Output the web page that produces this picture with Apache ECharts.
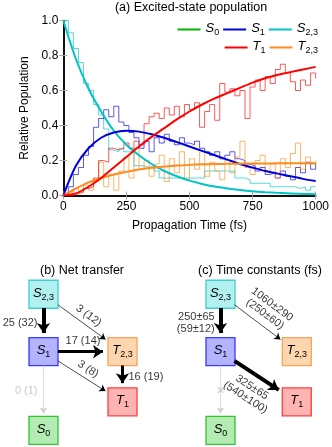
<!DOCTYPE html>
<html>
<head>
<meta charset="utf-8">
<script src="https://cdn.jsdelivr.net/npm/echarts@6/dist/echarts.min.js"></script>
<style>html,body{margin:0;padding:0;background:#fff}#main{width:332px;height:447px}</style>
</head>
<body>
<div id="main"></div>
<script>
// (a) populations: fitted curves (every 50 fs) and raw trajectory averages (every 20 fs)
var fitTime = [0,50,100,150,200,250,300,350,400,450,500,550,600,650,700,750,800,850,900,950,1000];
var s23Fit = [1.00,0.78,0.61,0.48,0.37,0.29,0.23,0.18,0.14,0.11,0.085,0.066,0.051,0.040,0.031,0.024,0.019,0.015,0.011,0.009,0.007];
var s1Fit = [0,0.17,0.27,0.33,0.36,0.37,0.365,0.35,0.33,0.305,0.28,0.255,0.23,0.205,0.18,0.16,0.14,0.125,0.11,0.095,0.083];
var t23Fit = [0,0.04,0.075,0.10,0.12,0.135,0.148,0.158,0.165,0.171,0.175,0.178,0.18,0.181,0.182,0.183,0.183,0.184,0.184,0.184,0.184];
var t1Fit = [0,0.012,0.05,0.10,0.16,0.22,0.28,0.335,0.385,0.435,0.48,0.52,0.555,0.585,0.615,0.645,0.67,0.69,0.705,0.72,0.735];

var rawTime = [0,20,40,60,80,100,120,140,160,180,200,220,240,260,280,300,320,340,360,380,400,420,440,460,480,500,
  520,540,560,580,600,620,640,660,680,700,720,740,760,780,800,820,840,860,880,900,920,940,960,980,1000];
var s23Raw = [1.00,0.93,0.84,0.76,0.64,0.60,0.52,0.46,0.38,0.26,0.25,0.27,0.25,0.25,0.17,0.17,0.16,0.17,0.14,0.10,0.10,0.10,0.10,0.10,0.10,0.10,
  0.10,0.10,0.14,0.14,0.14,0.14,0.14,0.14,0.10,0.10,0.09,0.07,0.07,0.07,0.07,0.05,0.05,0.05,0.05,0.05,0.04,0.05,0.03,0.05,0.05];
var s1Raw = [0.00,0.05,0.12,0.16,0.23,0.28,0.39,0.44,0.49,0.45,0.51,0.42,0.40,0.36,0.33,0.27,0.31,0.25,0.33,0.30,0.35,0.31,0.29,0.33,0.30,0.29,
  0.31,0.27,0.25,0.23,0.25,0.21,0.23,0.25,0.21,0.20,0.18,0.17,0.14,0.16,0.12,0.13,0.10,0.14,0.11,0.09,0.16,0.13,0.19,0.15,0.19];
var t1Raw = [0.00,0.00,0.01,0.02,0.04,0.05,0.10,0.20,0.19,0.27,0.26,0.27,0.30,0.27,0.31,0.29,0.41,0.45,0.47,0.44,0.50,0.46,0.51,0.45,0.52,0.49,
  0.53,0.39,0.48,0.52,0.43,0.64,0.59,0.61,0.57,0.60,0.44,0.62,0.66,0.60,0.68,0.64,0.72,0.75,0.70,0.65,0.60,0.66,0.63,0.70,0.67];
var t23Raw = [0.00,0.02,0.04,0.02,0.06,0.03,0.08,0.19,0.05,0.12,0.03,0.14,0.22,0.10,0.27,0.15,0.20,0.11,0.18,0.23,0.08,0.21,0.13,0.25,0.09,0.21,
  0.15,0.25,0.11,0.19,0.14,0.09,0.20,0.13,0.22,0.31,0.16,0.12,0.20,0.23,0.14,0.18,0.10,0.21,0.16,0.24,0.30,0.15,0.22,0.18,0.20];

var xTicks = [0,250,500,750,1000];
var yTicks = [0,0.2,0.4,0.6,0.8,1.0];

// (b) and (c) kinetic schemes
var transferEdges = [['S23','S1'],['S23','T23'],['S1','T23'],['S1','T1'],['T23','T1'],['S1','S0']];
var transferLabels = ['25 (32)','3 (12)','17 (14)','3 (8)','16 (19)','0 (1)'];
var timeEdges = [['S23','S1'],['S23','T23'],['S1','T1'],['S1','S0']];
var timeLabels = ['250±65\n(59±12)','1060±290\n(250±60)','325±65\n(540±100)','×'];

// layout / style
var FONT = 'Liberation Sans';
var stateColor = {S0:'#00b400', S1:'#0000dd', S23:'#00c4c4', T1:'#ff0000', T23:'#ff8c1a'};
var boxFill = {S0:'#b3ebb3', S1:'#b3b3ff', S23:'#b3f0f0', T1:'#ffb3b3', T23:'#fdd6b0'};
var boxLine = {S0:'#33c433', S1:'#3a3aff', S23:'#40d0d0', T1:'#ff4040', T23:'#f5a55a'};
var stateText = {S0:'{i|S}{s|0}', S1:'{i|S}{s|1}', S23:'{i|S}{s|2,3}', T1:'{i|T}{s|1}', T23:'{i|T}{s|2,3}'};
var nodeX = {S23:14.5, S1:14.5, T23:93.5, T1:93.5, S0:14.5};
var nodeY = {S23:14.5, S1:73, T23:73, T1:124, S0:153};
var transferWidth = [4, 0.7, 3, 0.7, 3, 0.7];
var transferSide = ['left','above','above','above','right','left'];
var timeWidth = [4, 0.7, 4, 0.7];
var timeSide = ['left','above','below','center'];

var rich = {
  i: {fontFamily: FONT, fontStyle: 'italic', fontSize: 13, color: '#000', verticalAlign: 'top'},
  s: {fontFamily: FONT, fontSize: 9, color: '#000', verticalAlign: 'bottom', padding: [6, 0, 0, 0]}
};

function pairs(ts, vs) {
  return ts.map(function (t, i) { return [t, vs[i]]; });
}

function rawSeries(key, vals) {
  return {
    name: key + ' raw', type: 'line', step: 'end', symbol: 'none', data: pairs(rawTime, vals),
    color: stateColor[key], lineStyle: {width: 1, opacity: 0.65}, z: 2, silent: true
  };
}

function fitSeries(key, vals) {
  return {
    name: key, type: 'line', smooth: 0.3, symbol: 'none', data: pairs(fitTime, vals),
    color: stateColor[key], lineStyle: {width: 2}, z: 3, silent: true
  };
}

function diagramSeries(gi, edges, labels, widths, sides) {
  var hw = 14.5, hh = 14;
  var boxes = Object.keys(nodeX).map(function (n) {
    return {
      value: [nodeX[n], nodeY[n]],
      itemStyle: {color: boxFill[n], borderColor: boxLine[n]},
      label: {formatter: stateText[n]}
    };
  });
  var lineData = [], labelData = [];
  edges.forEach(function (e, i) {
    var a = [nodeX[e[0]], nodeY[e[0]]], b = [nodeX[e[1]], nodeY[e[1]]];
    var dx = b[0] - a[0], dy = b[1] - a[1];
    var len = Math.sqrt(dx * dx + dy * dy), ux = dx / len, uy = dy / len;
    var f = Math.min(dx ? hw / Math.abs(dx) : Infinity, dy ? hh / Math.abs(dy) : Infinity);
    var p0 = [a[0] + dx * f, a[1] + dy * f];
    var p1 = [b[0] - dx * f, b[1] - dy * f];
    var head = widths[i] > 2 ? [7.5, 10] : [4.5, 6];
    var faded = e[1] === 'S0';
    var col = faded ? '#d0d0d0' : '#000';
    lineData.push({
      coords: [p0, [p1[0] - ux * head[1] / 2, p1[1] - uy * head[1] / 2]],
      lineStyle: {width: widths[i], color: col, opacity: 1},
      symbolSize: head
    });
    var mx = (p0[0] + p1[0]) / 2, my = (p0[1] + p1[1]) / 2;
    var nLines = labels[i].split('\n').length;
    var lab = {formatter: labels[i], color: faded ? '#bdbdbd' : '#000'};
    var pos;
    if (sides[i] === 'left') { pos = [mx - 6, my]; lab.align = 'right'; }
    else if (sides[i] === 'right') { pos = [mx + 6, my]; lab.align = 'left'; }
    else if (sides[i] === 'center') { pos = [mx, my]; lab.fontSize = 14; }
    else {
      var off = widths[i] / 2 + 1 + 2 * nLines + 6 * nLines;
      var sgn = sides[i] === 'above' ? 1 : -1;
      pos = [mx + sgn * uy * off, my - sgn * ux * off];
      lab.rotate = -Math.atan2(dy, dx) * 180 / Math.PI;
    }
    labelData.push({value: pos, label: lab});
  });
  return [
    {
      type: 'lines', coordinateSystem: 'cartesian2d', xAxisIndex: gi, yAxisIndex: gi,
      symbol: ['none', 'arrow'], data: lineData, z: 4, silent: true,
      lineStyle: {opacity: 1}
    },
    {
      type: 'scatter', xAxisIndex: gi, yAxisIndex: gi, symbol: 'rect', symbolSize: [29, 28],
      itemStyle: {borderWidth: 1.3, opacity: 1}, z: 3, silent: true,
      label: {show: true, position: 'inside', rich: rich},
      data: boxes
    },
    {
      type: 'scatter', xAxisIndex: gi, yAxisIndex: gi, symbolSize: 0, z: 5, silent: true,
      label: {show: true, position: 'inside', align: 'center', verticalAlign: 'middle',
        fontFamily: FONT, fontSize: 11, lineHeight: 12},
      data: labelData
    }
  ];
}

function hiddenAxis(gi, max, inverse) {
  return {gridIndex: gi, type: 'value', min: 0, max: max, inverse: !!inverse, show: false};
}

var chart = echarts.init(document.getElementById('main'));
var frameLine = {lineStyle: {color: '#000', width: 1.5}};
var innerTick = {inside: true, length: 4, lineStyle: {color: '#aaa'}};

var series = [
  {name: 'S0', type: 'line', symbol: 'none', data: [], color: stateColor.S0, lineStyle: {width: 2}},
  rawSeries('S23', s23Raw), rawSeries('S1', s1Raw), rawSeries('T23', t23Raw), rawSeries('T1', t1Raw),
  fitSeries('S23', s23Fit), fitSeries('S1', s1Fit), fitSeries('T23', t23Fit), fitSeries('T1', t1Fit)
].concat(diagramSeries(2, transferEdges, transferLabels, transferWidth, transferSide))
 .concat(diagramSeries(3, timeEdges, timeLabels, timeWidth, timeSide));

var legendBase = {
  right: 14, padding: 0, itemGap: 4, itemWidth: 23, itemHeight: 2, icon: 'rect',
  formatter: function (n) { return stateText[n]; }, textStyle: {rich: rich}
};

chart.setOption({
  animation: false,
  textStyle: {fontFamily: FONT, color: '#000'},
  title: [
    {text: '(a) Excited-state population', left: 191, top: 1, padding: 0, textAlign: 'center',
      textStyle: {fontFamily: FONT, fontSize: 12.5, fontWeight: 'normal', color: '#000'}},
    {text: '(b) Net transfer', left: 82, top: 264, padding: 0, textAlign: 'center',
      textStyle: {fontFamily: FONT, fontSize: 12.5, fontWeight: 'normal', color: '#000'}},
    {text: '(c) Time constants (fs)', left: 260, top: 264, padding: 0, textAlign: 'center',
      textStyle: {fontFamily: FONT, fontSize: 12.5, fontWeight: 'normal', color: '#000'}}
  ],
  legend: [
    echarts.util.extend({data: ['S0', 'S1', 'S23'], top: 22}, legendBase),
    echarts.util.extend({data: ['T1', 'T23'], top: 40}, legendBase)
  ],
  grid: [
    {left: 63.3, right: 13.5, top: 20.5, bottom: 251.5},
    {left: 29, top: 280, width: 130, height: 170},
    {left: 206.5, top: 280, width: 130, height: 170}
  ],
  xAxis: [
    {gridIndex: 0, type: 'value', min: xTicks[0], max: xTicks[xTicks.length - 1], interval: xTicks[1] - xTicks[0],
      axisLine: frameLine, axisTick: innerTick, splitLine: {show: false},
      axisLabel: {color: '#000', fontSize: 12, margin: 5, fontFamily: FONT,
        formatter: function (v) { return String(v); }},
      name: 'Propagation Time (fs)', nameLocation: 'middle', nameGap: 24,
      nameTextStyle: {fontSize: 12, color: '#000', fontFamily: FONT}},
    {gridIndex: 0, type: 'value', position: 'top', min: xTicks[0], max: xTicks[xTicks.length - 1],
      interval: xTicks[1] - xTicks[0], axisLine: frameLine, axisTick: innerTick,
      axisLabel: {show: false}, splitLine: {show: false}},
    hiddenAxis(1, 130), hiddenAxis(2, 130)
  ],
  yAxis: [
    {gridIndex: 0, type: 'value', min: yTicks[0], max: yTicks[yTicks.length - 1], interval: yTicks[1] - yTicks[0],
      axisLine: frameLine, axisTick: innerTick, splitLine: {show: false},
      axisLabel: {color: '#000', fontSize: 12, margin: 5, fontFamily: FONT,
        formatter: function (v) { return v.toFixed(1); }},
      name: 'Relative Population', nameLocation: 'middle', nameGap: 32,
      nameTextStyle: {fontSize: 12, color: '#000', fontFamily: FONT}},
    {gridIndex: 0, type: 'value', position: 'right', min: yTicks[0], max: yTicks[yTicks.length - 1],
      interval: yTicks[1] - yTicks[0], axisLine: frameLine, axisTick: innerTick,
      axisLabel: {show: false}, splitLine: {show: false}},
    hiddenAxis(1, 170, true), hiddenAxis(2, 170, true)
  ],
  series: series
});
</script>
</body>
</html>
